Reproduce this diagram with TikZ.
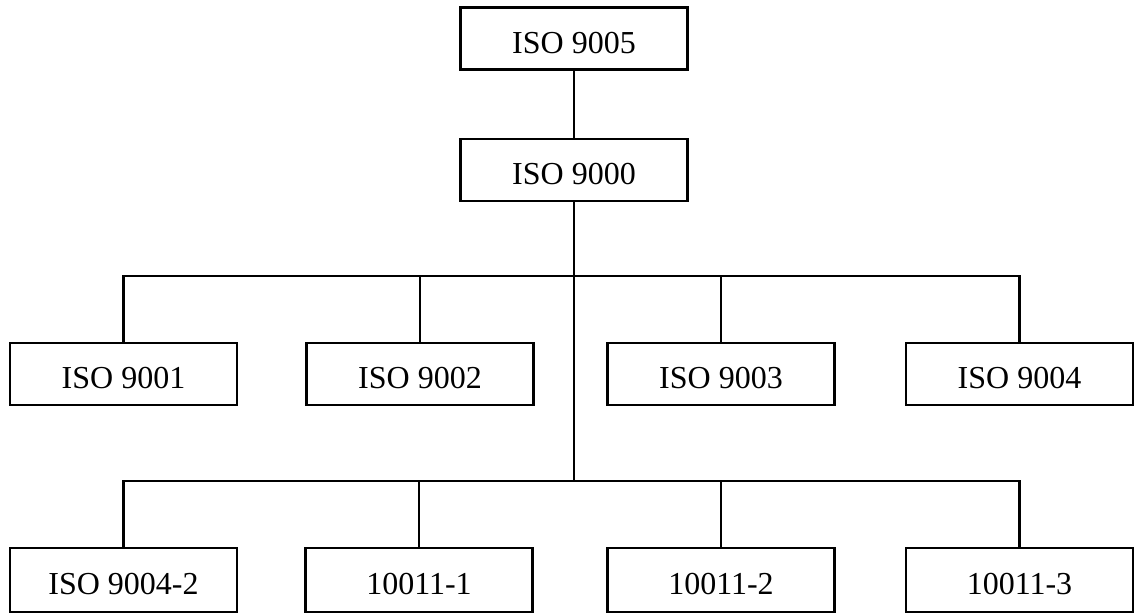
\documentclass[tikz,border=0pt]{standalone}
\usepackage{fontspec}
\setmainfont{Liberation Serif}
\begin{document}
\begin{tikzpicture}[x=1pt,y=-1pt,
  stdbox/.style={draw, line width=2.4pt, minimum width=227pt, minimum height=62pt,
    inner sep=0pt, text height=29pt, text depth=0pt,
    font=\fontsize{32}{38}\selectfont},
  lowbox/.style={stdbox, minimum height=64pt},
  link/.style={line width=2.4pt}]
\useasboundingbox (0,0) rectangle (1138,614);

% top of the hierarchy
\node[stdbox] (i9005) at (574,38.5) {ISO 9005};
\node[stdbox] (i9000) at (574,170) {ISO 9000};

% first row of standards
\node[stdbox] (i9001) at (123.5,374) {ISO 9001};
\node[stdbox] (i9002) at (420,374) {ISO 9002};
\node[stdbox] (i9003) at (721,374) {ISO 9003};
\node[stdbox] (i9004) at (1019.5,374) {ISO 9004};

% second row of standards
\node[lowbox] (i90042) at (123.5,580) {ISO 9004-2};
\node[lowbox] (a10011) at (419,580) {10011-1};
\node[lowbox] (b10011) at (721,580) {10011-2};
\node[lowbox] (c10011) at (1019.5,580) {10011-3};

% branching points on the main trunk
\coordinate (bus1) at (574,276);
\coordinate (bus2) at (574,481);

\draw[link] (i9005) -- (i9000);
\draw[link] (i9000.south) -- (bus2);

\draw[link] (i9001.north) |- (bus1) -| (i9004.north);
\draw[link] (i9002.north) -- (i9002.north |- bus1);
\draw[link] (i9003.north) -- (i9003.north |- bus1);

\draw[link] (i90042.north) |- (bus2) -| (c10011.north);
\draw[link] (a10011.north) -- (a10011.north |- bus2);
\draw[link] (b10011.north) -- (b10011.north |- bus2);
\end{tikzpicture}
\end{document}
